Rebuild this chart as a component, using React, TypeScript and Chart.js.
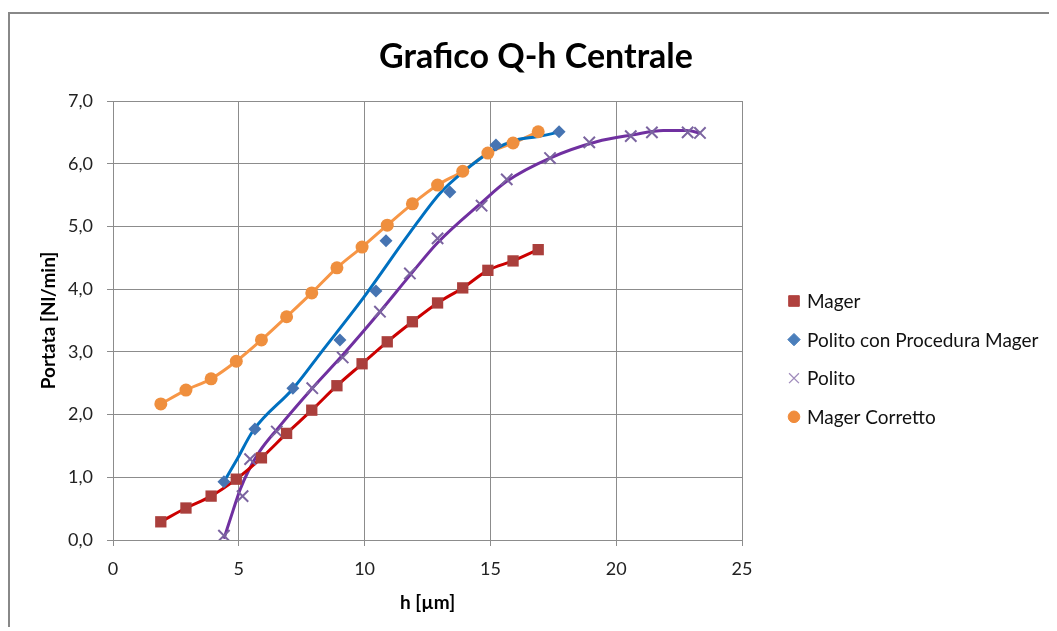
import React, { useEffect, useRef } from 'react';
import { Chart, registerables } from 'chart.js';
import { drawPoint } from 'chart.js/helpers';

Chart.register(...registerables);

// ---- Data ----
const magerH = [1.9, 2.9, 3.9, 4.9, 5.9, 6.9, 7.9, 8.9, 9.9, 10.9, 11.9, 12.9, 13.9, 14.9, 15.9, 16.9];
const magerQ = [0.29, 0.51, 0.70, 0.97, 1.31, 1.70, 2.07, 2.46, 2.81, 3.16, 3.48, 3.78, 4.02, 4.30, 4.45, 4.63];
const correttoQ = [2.17, 2.39, 2.57, 2.85, 3.19, 3.56, 3.94, 4.34, 4.67, 5.02, 5.36, 5.66, 5.88, 6.17, 6.33, 6.51];

const procH = [4.41, 5.64, 7.15, 9.02, 10.45, 10.85, 13.39, 15.22, 17.73];
const procQ = [0.93, 1.77, 2.42, 3.19, 3.97, 4.77, 5.55, 6.30, 6.51];

const politoH = [4.41, 5.15, 5.45, 6.51, 7.92, 9.13, 10.61, 11.80, 12.90, 14.65, 15.65, 17.37, 18.93, 20.58, 21.42, 22.84, 23.33];
const politoQ = [0.07, 0.70, 1.29, 1.73, 2.42, 2.91, 3.64, 4.25, 4.81, 5.33, 5.75, 6.09, 6.34, 6.44, 6.50, 6.50, 6.49];

// trend curves
const procCurveH = [4.41, 4.92, 5.58, 7.17, 8.29, 9.95, 11.80, 13.0, 13.92, 15.12, 16.04, 16.84, 17.70];
const procCurveQ = [0.93, 1.28, 1.75, 2.42, 3.0, 3.86, 4.90, 5.53, 5.87, 6.22, 6.38, 6.43, 6.50];
const politoCurveH = [4.41, 4.78, 5.05, 5.38, 5.84, 6.51, 7.92, 9.13, 10.61, 11.80, 12.90, 14.65, 15.65, 17.37, 19.22, 20.67, 21.87, 22.79, 23.33];
const politoCurveQ = [0.02, 0.48, 0.80, 1.10, 1.42, 1.76, 2.42, 2.95, 3.64, 4.22, 4.74, 5.38, 5.72, 6.09, 6.35, 6.46, 6.53, 6.53, 6.49];

const seriesLabels = ['Mager', 'Polito con Procedura Mager', 'Polito', 'Mager Corretto'];
const chartTitle = 'Grafico Q-h Centrale';
const xTitle = 'h [µm]';
const yTitle = 'Portata [Nl/min]';

const FONT = 'Lato, "Open Sans", sans-serif';

const pts = (xs: number[], ys: number[]) => xs.map((x, i) => ({ x, y: ys[i] }));

const decorPlugin = {
  id: 'decor',
  afterDraw(chart: any) {
    const ctx = chart.ctx as CanvasRenderingContext2D;
    // title
    ctx.save();
    ctx.fillStyle = '#000';
    ctx.font = `bold 34px ${FONT}`;
    ctx.textAlign = 'center';
    ctx.textBaseline = 'alphabetic';
    ctx.fillText(chartTitle, 526, 54);
    ctx.restore();
    // legend
    const items = chart.data.datasets.filter((d: any) => d.inLegend);
    const x0 = 784;
    const tx = 797;
    const y0 = 287;
    const step = 38.6;
    items.forEach((d: any, i: number) => {
      const y = y0 + i * step;
      ctx.save();
      ctx.fillStyle = d.legendColor;
      ctx.strokeStyle = d.legendColor;
      ctx.lineWidth = d.pointStyle === 'crossRot' ? 1.3 : 0;
      drawPoint(ctx, { pointStyle: d.pointStyle, radius: d.legendRadius, borderWidth: ctx.lineWidth, rotation: 0 } as any, x0, y);
      ctx.fillStyle = '#111';
      ctx.font = `19px ${FONT}`;
      ctx.textBaseline = 'middle';
      ctx.textAlign = 'left';
      ctx.fillText(d.label, tx, y + 1);
      ctx.restore();
    });
  },
};

export default function App() {
  const ref = useRef<HTMLCanvasElement>(null);
  useEffect(() => {
    document.body.style.overflow = 'hidden';
    document.documentElement.style.overflow = 'hidden';
    if (!ref.current) return;
    const line = (label: string, xs: number[], ys: number[], color: string) => ({
      label,
      data: pts(xs, ys),
      showLine: true,
      borderColor: color,
      borderWidth: 3,
      pointRadius: 0,
      cubicInterpolationMode: 'monotone',
      order: 2,
      inLegend: false,
    });
    const chart = new Chart(ref.current, {
      type: 'scatter',
      data: {
        datasets: [
          line('trend Mager', magerH, magerQ, '#CC0000'),
          line('trend Procedura', procCurveH, procCurveQ, '#0070C0'),
          line('trend Polito', politoCurveH, politoCurveQ, '#7030A0'),
          line('trend Corretto', magerH, correttoQ, '#F79646'),
          {
            label: seriesLabels[0],
            data: pts(magerH, magerQ),
            showLine: false,
            pointStyle: 'rect',
            pointRadius: 8,
            pointBackgroundColor: '#AA3F3C',
            pointBorderWidth: 0,
            order: 1,
            inLegend: true,
            legendColor: '#B0413E',
            legendRadius: 7.5,
          } as any,
          {
            label: seriesLabels[1],
            data: pts(procH, procQ),
            showLine: false,
            pointStyle: 'rectRot',
            pointRadius: 6.5,
            pointBackgroundColor: '#4674B2',
            pointBorderWidth: 0,
            order: 1,
            inLegend: true,
            legendColor: '#4A7EBB',
            legendRadius: 6.2,
          } as any,
          {
            label: seriesLabels[2],
            data: pts(politoH, politoQ),
            showLine: false,
            pointStyle: 'crossRot',
            pointRadius: 8,
            pointBorderColor: '#7B64A0',
            pointBorderWidth: 2,
            order: 1,
            inLegend: true,
            legendColor: '#A08CBC',
            legendRadius: 7,
          } as any,
          {
            label: seriesLabels[3],
            data: pts(magerH, correttoQ),
            showLine: false,
            pointStyle: 'circle',
            pointRadius: 6.5,
            pointBackgroundColor: '#EF8F3E',
            pointBorderWidth: 0,
            order: 1,
            inLegend: true,
            legendColor: '#F08C3C',
            legendRadius: 5.8,
          } as any,
        ] as any,
      },
      options: {
        responsive: false,
        animation: false,
        devicePixelRatio: 1,
        layout: { padding: { left: 0, right: 315, top: 87, bottom: 0 } },
        plugins: {
          legend: { display: false },
          tooltip: { enabled: false },
          title: { display: false },
        },
        scales: {
          x: {
            type: 'linear',
            min: 0,
            max: 25,
            afterFit: (s: any) => { s.height = 91; },
            ticks: { stepSize: 5, color: '#222', font: { family: FONT, size: 18 }, padding: 12 },
            grid: { color: '#8C8C8C', lineWidth: 1, tickLength: 6, drawTicks: true },
            border: { color: '#8C8C8C', width: 1 },
            title: {
              display: true,
              text: xTitle,
              color: '#000',
              font: { family: FONT, size: 19, weight: 'bold' },
              padding: { top: 0, bottom: 17 },
            },
          },
          y: {
            type: 'linear',
            min: 0,
            max: 7,
            afterFit: (s: any) => { s.width = 103; },
            ticks: {
              stepSize: 1,
              color: '#222',
              font: { family: FONT, size: 18 },
              padding: 14,
              callback: (v: any) => Number(v).toFixed(1).replace('.', ','),
            },
            grid: { color: '#8C8C8C', lineWidth: 1, tickLength: 6, drawTicks: true },
            border: { color: '#8C8C8C', width: 1 },
            title: {
              display: true,
              text: yTitle,
              color: '#000',
              font: { family: FONT, size: 19, weight: 'bold' },
              padding: { top: 27, bottom: 0 },
            },
          },
        },
      } as any,
      plugins: [decorPlugin],
    });
    return () => chart.destroy();
  }, []);

  return (
    <div
      style={{
        position: 'relative',
        top: 4,
        width: 1049,
        height: 619,
        boxSizing: 'border-box',
        borderLeft: '2px solid #888',
        borderTop: '2px solid #888',
        background: '#fff',
      }}
    >
      <canvas ref={ref} width={1047} height={617} style={{ width: 1047, height: 617, display: 'block' }} />
    </div>
  );
}
